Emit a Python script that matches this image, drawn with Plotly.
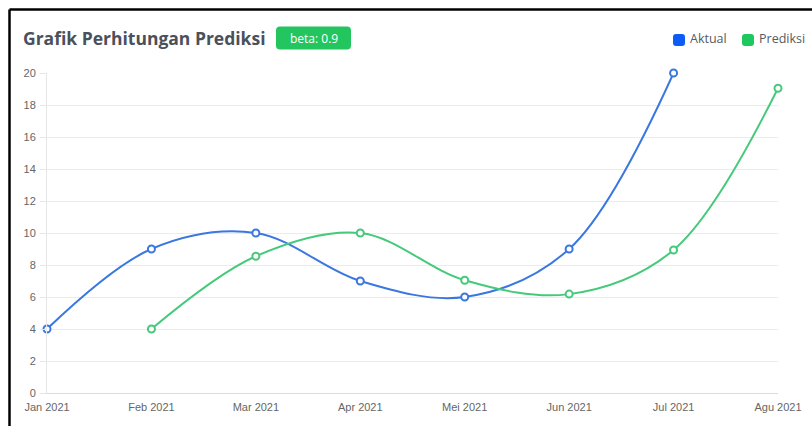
import plotly.graph_objects as go

months = ["Jan 2021", "Feb 2021", "Mar 2021", "Apr 2021", "Mei 2021", "Jun 2021", "Jul 2021", "Agu 2021"]
aktual = [4, 9, 10, 7, 6, 9, 20, None]
prediksi = [None, 4, 8.55, 10, 7.05, 6.18, 8.94, 19.05]
y_ticks = [0, 2, 4, 6, 8, 10, 12, 14, 16, 18, 20]

title_text = "Grafik Perhitungan Prediksi"
badge_text = "beta: 0.9"
series_names = ["Aktual", "Prediksi"]

BLUE_LINE = "#3a78e0"
GREEN_LINE = "#45c97a"
BLUE_LEG = "#0d5cf5"
GREEN_LEG = "#1dc95f"
BADGE = "#22c55e"

W, H = 812, 426
L, R, T, B = 47, 34, 73, 33
pw, ph = W - L - R, H - T - B

def px(x):
    return (x - L) / pw

def py(y):
    return (H - B - y) / ph

fig = go.Figure()
for name, vals, col in [(series_names[0], aktual, BLUE_LINE), (series_names[1], prediksi, GREEN_LINE)]:
    fig.add_trace(go.Scatter(
        x=months, y=vals, name=name, mode="lines+markers",
        line=dict(color=col, width=2, shape="spline", smoothing=1.0),
        marker=dict(symbol="circle", size=7, color="white", line=dict(color=col, width=2)),
        showlegend=False, cliponaxis=False,
    ))

shapes = []
# frame lines (top and left)
shapes.append(dict(type="line", xref="paper", yref="paper", x0=px(9.5), x1=px(W + 2), y0=py(9.5), y1=py(9.5),
                   line=dict(color="black", width=2.5)))
shapes.append(dict(type="line", xref="paper", yref="paper", x0=px(9.5), x1=px(9.5), y0=py(9.5), y1=py(H + 2),
                   line=dict(color="black", width=2.5)))

def rrect(x0, y0, x1, y1, r):
    X0, X1 = px(x0), px(x1)
    rx, ry = r / pw, r / ph
    Y0, Y1 = py(y0), py(y1)
    return (f"M {X0+rx},{Y0} L {X1-rx},{Y0} Q {X1},{Y0} {X1},{Y0-ry} "
            f"L {X1},{Y1+ry} Q {X1},{Y1} {X1-rx},{Y1} L {X0+rx},{Y1} "
            f"Q {X0},{Y1} {X0},{Y1+ry} L {X0},{Y0-ry} Q {X0},{Y0} {X0+rx},{Y0} Z")

# badge
shapes.append(dict(type="path", xref="paper", yref="paper", path=rrect(276, 26.5, 351, 49.5, 4),
                   fillcolor=BADGE, line=dict(width=0)))
# legend squares
shapes.append(dict(type="path", xref="paper", yref="paper", path=rrect(673, 34, 685, 46, 3),
                   fillcolor=BLUE_LEG, line=dict(width=0)))
shapes.append(dict(type="path", xref="paper", yref="paper", path=rrect(742, 34, 754, 46, 3),
                   fillcolor=GREEN_LEG, line=dict(width=0)))

annotations = [
    dict(text=f"<b>{title_text}</b>", xref="paper", yref="paper", x=px(21), y=py(38.5),
         xanchor="left", yanchor="middle", showarrow=False,
         font=dict(family="Open Sans", size=17.5, color="#4a505c")),
    dict(text=badge_text, xref="paper", yref="paper", x=px(313.5), y=py(38),
         xanchor="center", yanchor="middle", showarrow=False,
         font=dict(family="Open Sans", size=12, color="white")),
    dict(text=series_names[0], xref="paper", yref="paper", x=px(688), y=py(38),
         xanchor="left", yanchor="middle", showarrow=False,
         font=dict(family="Open Sans", size=12.5, color="#555a63")),
    dict(text=series_names[1], xref="paper", yref="paper", x=px(757), y=py(38),
         xanchor="left", yanchor="middle", showarrow=False,
         font=dict(family="Open Sans", size=12.5, color="#555a63")),
]

fig.update_layout(
    width=W, height=H,
    margin=dict(l=L, r=R, t=T, b=B, pad=0, autoexpand=False),
    paper_bgcolor="white", plot_bgcolor="white",
    shapes=shapes, annotations=annotations,
    font=dict(family="Liberation Sans", size=11, color="#666666"),
    xaxis=dict(type="category", categoryorder="array", categoryarray=months,
               range=[0, len(months) - 1], showgrid=False, zeroline=False, automargin=False,
               showline=True, linecolor="#dcdcdc", linewidth=1,
               ticks="", ticklabelstandoff=4, tickfont=dict(size=11, color="#666666")),
    yaxis=dict(range=[0, 20], tickvals=y_ticks, showgrid=True, gridcolor="#ececec", gridwidth=1,
               zeroline=False, showline=True, linecolor="#e6e6e6", linewidth=1, automargin=False,
               ticks="outside", ticklen=6, tickcolor="#e6e6e6", ticklabelstandoff=2,
               tickfont=dict(size=11, color="#666666")),
)

fig.write_html("out.html")
